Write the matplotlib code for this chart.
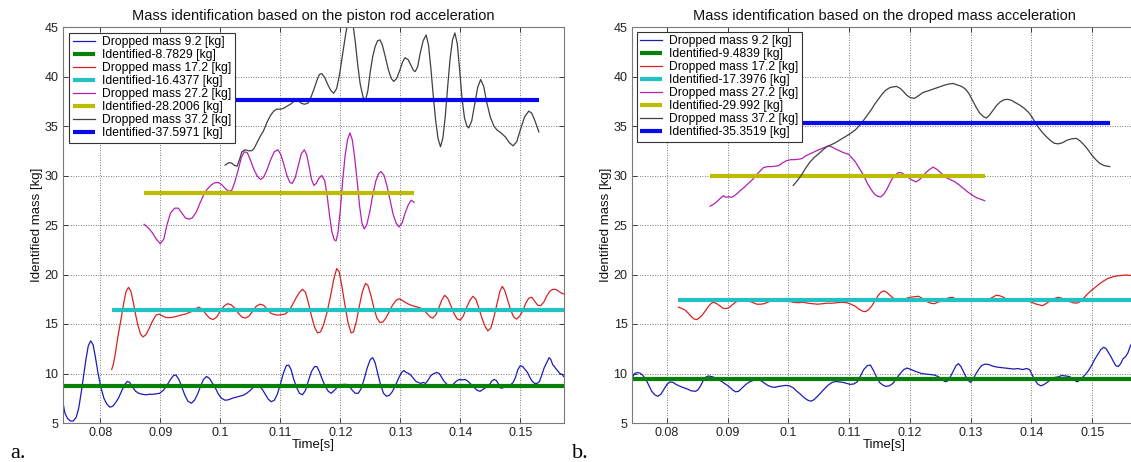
import matplotlib
matplotlib.use("Agg")
import matplotlib.pyplot as plt

plt.rcParams['font.family'] = ['Liberation Sans', 'DejaVu Sans']

# ---------------- panel a: piston rod acceleration ----------------
t_9a = [0.0737, 0.0741, 0.0745, 0.0750, 0.0755, 0.0760, 0.0764, 0.0768, 0.0772, 0.0776, 0.0780, 0.0784, 0.0788,
        0.0792, 0.0796, 0.0801, 0.0806, 0.0811, 0.0816, 0.0821, 0.0826, 0.0831, 0.0836, 0.0841, 0.0845, 0.0849,
        0.0854, 0.0859, 0.0864, 0.0870, 0.0876, 0.0882, 0.0888, 0.0894, 0.0899, 0.0905, 0.0911, 0.0917, 0.0922,
        0.0926, 0.0931, 0.0936, 0.0941, 0.0946, 0.0952, 0.0957, 0.0962, 0.0967, 0.0972, 0.0977, 0.0982, 0.0987,
        0.0992, 0.0997, 0.1002, 0.1008, 0.1014, 0.1020, 0.1026, 0.1032, 0.1038, 0.1044, 0.1050, 0.1055, 0.1060,
        0.1065, 0.1070, 0.1075, 0.1080, 0.1085, 0.1090, 0.1095, 0.1100, 0.1105, 0.1110, 0.1114, 0.1118, 0.1122,
        0.1127, 0.1132, 0.1137, 0.1142, 0.1147, 0.1152, 0.1157, 0.1161, 0.1165, 0.1170, 0.1175, 0.1180, 0.1185,
        0.1190, 0.1195, 0.1200, 0.1205, 0.1210, 0.1215, 0.1220, 0.1225, 0.1230, 0.1235, 0.1240, 0.1245, 0.1250,
        0.1254, 0.1258, 0.1262, 0.1267, 0.1272, 0.1277, 0.1282, 0.1287, 0.1292, 0.1297, 0.1302, 0.1306, 0.1310,
        0.1314, 0.1318, 0.1322, 0.1326, 0.1330, 0.1334, 0.1338, 0.1342, 0.1346, 0.1351, 0.1356, 0.1361, 0.1365,
        0.1369, 0.1373, 0.1378, 0.1383, 0.1388, 0.1393, 0.1398, 0.1403, 0.1408, 0.1413, 0.1418, 0.1423, 0.1428,
        0.1433, 0.1438, 0.1443, 0.1448, 0.1452, 0.1456, 0.1460, 0.1464, 0.1468, 0.1473, 0.1478, 0.1483, 0.1488,
        0.1492, 0.1496, 0.1500, 0.1504, 0.1508, 0.1512, 0.1516, 0.1520, 0.1524, 0.1528, 0.1532, 0.1536, 0.1540,
        0.1544, 0.1548, 0.1551, 0.1554, 0.1558, 0.1562, 0.1566, 0.1570, 0.1572]
m_9a = [7.3, 6.0, 5.5, 5.2, 5.2, 5.6, 6.5, 8.0, 9.7, 11.4, 12.8, 13.3, 12.9,
        11.6, 10.1, 8.6, 7.5, 6.9, 6.6, 6.7, 7.1, 7.6, 8.3, 8.9, 9.2, 9.1,
        8.6, 8.2, 8.0, 7.9, 7.85, 7.9, 7.9, 7.95, 8.0, 8.3, 8.8, 9.4, 9.8,
        9.85, 9.4, 8.6, 7.8, 7.2, 7.0, 7.3, 7.9, 8.7, 9.4, 9.7, 9.5, 9.0,
        8.5, 7.9, 7.5, 7.3, 7.35, 7.5, 7.6, 7.7, 7.8, 8.0, 8.3, 8.6, 8.75,
        8.7, 8.4, 7.9, 7.4, 7.15, 7.3, 7.9, 8.9, 10.0, 10.8, 10.85, 10.4, 9.5,
        8.6, 8.0, 7.85, 8.3, 9.3, 10.2, 10.7, 10.7, 10.2, 9.4, 8.7, 8.2, 8.0,
        8.3, 8.6, 8.8, 8.9, 8.9, 8.7, 8.3, 8.0, 8.0, 8.5, 9.5, 10.6, 11.4,
        11.6, 11.1, 10.1, 8.9, 8.0, 7.7, 7.8, 8.2, 8.8, 9.5, 10.1, 10.3, 10.1,
        10.0, 9.8, 9.5, 9.2, 9.1, 9.0, 9.1, 9.0, 9.3, 9.8, 10.0, 10.1, 10.0,
        9.6, 9.2, 8.9, 8.8, 8.9, 9.2, 9.4, 9.35, 9.4, 9.2, 8.9, 8.6, 8.3,
        8.2, 8.4, 8.6, 8.8, 9.2, 9.4, 9.3, 8.9, 8.5, 8.6, 8.7, 8.8, 9.1,
        9.6, 10.4, 10.8, 10.7, 10.4, 10.1, 9.6, 9.2, 9.0, 9.0, 9.2, 9.9, 10.6,
        11.1, 11.6, 11.4, 10.9, 10.6, 10.3, 10.0, 9.9, 9.7]

t_17a = [0.0819, 0.0822, 0.0825, 0.0829, 0.0834, 0.0839, 0.0843, 0.0847, 0.0851, 0.0855, 0.0859, 0.0863, 0.0867,
         0.0871, 0.0876, 0.0881, 0.0887, 0.0893, 0.0898, 0.0904, 0.0910, 0.0918, 0.0926, 0.0934, 0.0942, 0.0950,
         0.0958, 0.0964, 0.0970, 0.0976, 0.0982, 0.0988, 0.0994, 0.1000, 0.1006, 0.1012, 0.1018, 0.1024, 0.1030,
         0.1036, 0.1042, 0.1048, 0.1054, 0.1060, 0.1066, 0.1072, 0.1078, 0.1084, 0.1090, 0.1096, 0.1102, 0.1108,
         0.1114, 0.1120, 0.1126, 0.1132, 0.1137, 0.1142, 0.1147, 0.1152, 0.1157, 0.1162, 0.1167, 0.1172, 0.1178,
         0.1184, 0.1189, 0.1194, 0.1198, 0.1203, 0.1208, 0.1213, 0.1218, 0.1222, 0.1227, 0.1232, 0.1237, 0.1242,
         0.1246, 0.1251, 0.1256, 0.1261, 0.1266, 0.1271, 0.1276, 0.1281, 0.1287, 0.1293, 0.1298, 0.1303, 0.1308,
         0.1314, 0.1320, 0.1326, 0.1332, 0.1338, 0.1344, 0.1350, 0.1354, 0.1359, 0.1364, 0.1369, 0.1374, 0.1379,
         0.1384, 0.1390, 0.1395, 0.1400, 0.1405, 0.1410, 0.1416, 0.1421, 0.1426, 0.1431, 0.1436, 0.1441, 0.1446,
         0.1451, 0.1456, 0.1461, 0.1466, 0.1470, 0.1474, 0.1479, 0.1484, 0.1489, 0.1494, 0.1499, 0.1504, 0.1509,
         0.1514, 0.1519, 0.1524, 0.1529, 0.1534, 0.1539, 0.1544, 0.1549, 0.1554, 0.1559, 0.1564, 0.1569, 0.1572]
m_17a = [10.4, 11.0, 12.0, 13.6, 15.3, 17.1, 18.3, 18.7, 18.3, 17.2, 15.9, 14.8, 14.0,
         13.7, 13.9, 14.5, 15.3, 15.9, 16.0, 15.8, 15.65, 15.65, 15.75, 15.9, 16.0, 16.2,
         16.5, 16.7, 16.5, 16.0, 15.6, 15.45, 15.7, 16.3, 16.8, 17.05, 16.95, 16.6, 16.1,
         15.7, 15.6, 15.8, 16.3, 16.8, 17.0, 16.9, 16.5, 16.1, 15.95, 15.9, 15.95, 16.0,
         16.3, 16.9, 17.6, 18.2, 18.5, 18.2, 17.1, 15.8, 14.7, 14.1, 14.2, 14.9, 16.2,
         17.9, 19.5, 20.6, 20.3, 18.7, 16.8, 15.1, 14.1, 14.2, 15.3, 16.9, 18.3, 19.1,
         18.9, 17.9, 16.6, 15.6, 15.15, 15.2, 15.6, 16.2, 16.9, 17.4, 17.55, 17.4, 17.2,
         17.0, 16.85, 16.75, 16.65, 16.5, 16.1, 15.7, 15.6, 15.9, 16.6, 17.4, 17.9, 17.6,
         16.9, 16.0, 15.5, 15.4, 15.8, 16.6, 17.4, 17.8, 17.5, 16.6, 15.6, 14.8, 14.3,
         14.6, 15.7, 17.0, 18.3, 18.8, 18.4, 17.4, 16.4, 15.7, 15.5, 15.8, 16.3, 17.1,
         17.6, 17.7, 17.3, 16.9, 16.85, 17.2, 17.8, 18.3, 18.5, 18.5, 18.3, 18.1, 18.05]

t_27a = [0.0873, 0.0880, 0.0887, 0.0893, 0.0900, 0.0906, 0.0911, 0.0917, 0.0924, 0.0930, 0.0936, 0.0942, 0.0948,
         0.0953, 0.0960, 0.0966, 0.0972, 0.0978, 0.0984, 0.0990, 0.0996, 0.1002, 0.1008, 0.1014, 0.1019, 0.1024,
         0.1030, 0.1035, 0.1040, 0.1045, 0.1050, 0.1056, 0.1062, 0.1067, 0.1072, 0.1078, 0.1084, 0.1090, 0.1096,
         0.1101, 0.1106, 0.1111, 0.1116, 0.1120, 0.1125, 0.1130, 0.1135, 0.1140, 0.1144, 0.1148, 0.1152, 0.1156,
         0.1160, 0.1164, 0.1169, 0.1174, 0.1178, 0.1182, 0.1186, 0.1190, 0.1193, 0.1196, 0.1200, 0.1204, 0.1208,
         0.1212, 0.1216, 0.1220, 0.1224, 0.1228, 0.1232, 0.1236, 0.1240, 0.1244, 0.1249, 0.1254, 0.1259, 0.1264,
         0.1268, 0.1273, 0.1278, 0.1283, 0.1288, 0.1293, 0.1298, 0.1303, 0.1308, 0.1313, 0.1318, 0.1323]
m_27a = [25.07, 24.7, 24.2, 23.6, 23.1, 23.6, 25.0, 26.2, 26.7, 26.7, 26.2, 25.7, 25.6,
         25.7, 26.3, 27.2, 28.0, 28.6, 29.0, 29.25, 29.3, 29.1, 28.7, 28.4, 28.5, 29.3,
         30.6, 31.8, 32.4, 32.3, 31.6, 30.6, 29.9, 29.6, 29.8, 30.6, 31.6, 32.4, 32.6,
         32.1, 31.1, 30.0, 29.3, 29.2, 29.8, 31.0, 32.2, 32.6, 32.1, 30.9, 29.6, 29.0,
         29.2, 29.7, 30.0, 29.5, 28.0, 26.0, 24.3, 23.5, 23.4, 24.2, 26.5, 29.5, 32.0,
         33.6, 34.3, 33.6, 31.8, 29.5, 27.0, 25.2, 24.6, 25.0, 26.3, 28.0, 29.4, 30.2,
         30.4, 30.0, 28.9, 27.5, 26.1, 25.2, 24.8, 25.2, 26.2, 27.0, 27.5, 27.3]

t_37a = [0.1008, 0.1014, 0.1019, 0.1024, 0.1028, 0.1032, 0.1036, 0.1041, 0.1047, 0.1052, 0.1056, 0.1061, 0.1067,
         0.1072, 0.1078, 0.1084, 0.1089, 0.1094, 0.1100, 0.1106, 0.1111, 0.1117, 0.1123, 0.1129, 0.1135, 0.1140,
         0.1146, 0.1151, 0.1156, 0.1161, 0.1165, 0.1169, 0.1174, 0.1179, 0.1184, 0.1189, 0.1194, 0.1199, 0.1204,
         0.1209, 0.1213, 0.1217, 0.1221, 0.1225, 0.1229, 0.1233, 0.1238, 0.1242, 0.1246, 0.1250, 0.1254, 0.1258,
         0.1262, 0.1266, 0.1270, 0.1275, 0.1280, 0.1285, 0.1289, 0.1294, 0.1299, 0.1304, 0.1308, 0.1313, 0.1318,
         0.1322, 0.1325, 0.1329, 0.1333, 0.1338, 0.1343, 0.1347, 0.1351, 0.1355, 0.1359, 0.1363, 0.1367, 0.1371,
         0.1375, 0.1379, 0.1383, 0.1387, 0.1391, 0.1395, 0.1399, 0.1403, 0.1407, 0.1411, 0.1414, 0.1419, 0.1424,
         0.1429, 0.1434, 0.1439, 0.1444, 0.1450, 0.1456, 0.1461, 0.1468, 0.1475, 0.1482, 0.1488, 0.1494, 0.1500,
         0.1507, 0.1514, 0.1519, 0.1524, 0.1528, 0.1531]
m_37a = [31.05, 31.3, 31.25, 31.0, 30.95, 31.6, 32.4, 32.6, 32.5, 32.5, 32.7, 33.3, 34.0,
         34.5, 35.4, 36.1, 36.5, 36.7, 36.7, 36.8, 37.0, 37.2, 37.5, 37.6, 37.3, 37.2,
         37.3, 37.9, 38.7, 39.6, 40.2, 40.3, 39.9, 39.2, 38.6, 38.3, 38.8, 40.3, 42.3,
         44.3, 45.6, 46.0, 45.3, 43.5, 41.2, 39.3, 37.9, 37.6, 38.6, 40.5, 42.0, 43.0,
         43.6, 43.7, 43.2, 42.0, 40.7, 39.8, 39.5, 39.8, 40.6, 41.5, 41.9, 41.7, 41.1,
         40.6, 40.5, 41.0, 42.3, 43.6, 44.2, 43.2, 40.8, 38.0, 35.5, 33.7, 32.9, 33.8,
         36.0, 39.0, 41.8, 43.7, 44.4, 43.3, 40.6, 37.7, 35.8, 35.0, 34.8, 35.5, 37.2,
         38.9, 39.7, 39.0, 37.4, 35.9, 35.0, 34.6, 34.3, 33.9, 33.3, 33.0, 33.4, 34.6,
         35.9, 36.5, 36.3, 35.6, 34.9, 34.4]

# identified masses (value, start time, end time)
id_a = [8.7829, 16.4377, 28.2006, 37.5971]
id_a_start = [0.0737, 0.0819, 0.0873, 0.1008]
id_a_end = [0.1575, 0.1575, 0.1323, 0.1531]

# ---------------- panel b: dropped mass acceleration ----------------
t_9b = [0.0742, 0.0747, 0.0751, 0.0755, 0.0759, 0.0763, 0.0767, 0.0771, 0.0775, 0.0780, 0.0785, 0.0790, 0.0795,
        0.0800, 0.0805, 0.0810, 0.0815, 0.0820, 0.0826, 0.0833, 0.0840, 0.0847, 0.0851, 0.0855, 0.0859, 0.0863,
        0.0868, 0.0873, 0.0878, 0.0884, 0.0890, 0.0896, 0.0902, 0.0908, 0.0913, 0.0918, 0.0924, 0.0930, 0.0936,
        0.0942, 0.0948, 0.0954, 0.0960, 0.0966, 0.0972, 0.0978, 0.0984, 0.0990, 0.0996, 0.1002, 0.1008, 0.1014,
        0.1020, 0.1026, 0.1032, 0.1037, 0.1042, 0.1048, 0.1054, 0.1060, 0.1066, 0.1072, 0.1078, 0.1084, 0.1090,
        0.1096, 0.1102, 0.1108, 0.1114, 0.1119, 0.1124, 0.1130, 0.1135, 0.1140, 0.1145, 0.1150, 0.1155, 0.1160,
        0.1166, 0.1172, 0.1178, 0.1184, 0.1190, 0.1195, 0.1200, 0.1206, 0.1212, 0.1219, 0.1226, 0.1233, 0.1240,
        0.1246, 0.1252, 0.1257, 0.1261, 0.1266, 0.1271, 0.1276, 0.1280, 0.1284, 0.1288, 0.1292, 0.1296, 0.1300,
        0.1304, 0.1308, 0.1313, 0.1318, 0.1324, 0.1330, 0.1336, 0.1343, 0.1350, 0.1357, 0.1364, 0.1371, 0.1378,
        0.1385, 0.1392, 0.1397, 0.1401, 0.1406, 0.1411, 0.1416, 0.1421, 0.1426, 0.1432, 0.1438, 0.1444, 0.1450,
        0.1456, 0.1462, 0.1467, 0.1471, 0.1475, 0.1479, 0.1484, 0.1489, 0.1494, 0.1499, 0.1504, 0.1509, 0.1514,
        0.1519, 0.1523, 0.1527, 0.1531, 0.1535, 0.1539, 0.1543, 0.1547, 0.1551, 0.1555, 0.1559, 0.1563, 0.1567]
m_9b = [9.5, 10.0, 10.1, 10.05, 9.9, 9.6, 9.2, 8.7, 8.2, 7.85, 7.7, 7.9, 8.4,
        8.9, 9.15, 9.1, 8.9, 8.75, 8.6, 8.45, 8.25, 8.2, 8.35, 8.7, 9.2, 9.6,
        9.75, 9.7, 9.6, 9.4, 9.2, 8.95, 8.7, 8.35, 8.15, 8.2, 8.55, 8.9, 9.15,
        9.3, 9.4, 9.3, 9.05, 8.8, 8.65, 8.6, 8.7, 8.75, 8.8, 8.75, 8.55, 8.2,
        7.9, 7.55, 7.3, 7.2, 7.35, 7.7, 8.1, 8.5, 8.85, 9.1, 9.2, 9.15, 9.1,
        9.0, 8.9, 8.95, 9.2, 9.8, 10.4, 10.8, 10.85, 10.3, 9.65, 9.1, 8.85, 8.7,
        8.75, 9.0, 9.5, 10.0, 10.4, 10.55, 10.45, 10.3, 10.15, 10.0, 9.95, 9.9, 9.85,
        9.7, 9.5, 9.2, 9.2, 9.6, 10.2, 10.8, 11.0, 10.7, 10.2, 9.7, 9.3, 9.1,
        9.4, 9.9, 10.4, 10.8, 10.95, 10.9, 10.75, 10.65, 10.6, 10.55, 10.5, 10.45, 10.5,
        10.4, 10.5, 10.4, 9.9, 9.3, 8.9, 8.75, 8.9, 9.1, 9.4, 9.6, 9.65, 9.8,
        9.75, 9.7, 9.55, 9.35, 9.15, 9.3, 9.6, 9.9, 10.3, 10.8, 11.4, 11.9, 12.4,
        12.65, 12.5, 12.1, 11.7, 11.2, 10.8, 10.7, 11.0, 11.5, 11.7, 12.1, 12.8, 13.2]

t_17b = [0.0819, 0.0825, 0.0830, 0.0835, 0.0840, 0.0845, 0.0849, 0.0853, 0.0858, 0.0863, 0.0868, 0.0873, 0.0877,
         0.0882, 0.0887, 0.0892, 0.0897, 0.0902, 0.0907, 0.0913, 0.0918, 0.0924, 0.0930, 0.0936, 0.0942, 0.0948,
         0.0954, 0.0960, 0.0966, 0.0972, 0.0978, 0.0985, 0.0992, 0.1000, 0.1008, 0.1016, 0.1024, 0.1032, 0.1040,
         0.1048, 0.1056, 0.1064, 0.1072, 0.1080, 0.1088, 0.1096, 0.1103, 0.1110, 0.1116, 0.1122, 0.1127, 0.1132,
         0.1137, 0.1142, 0.1147, 0.1152, 0.1157, 0.1162, 0.1167, 0.1173, 0.1179, 0.1185, 0.1190, 0.1195, 0.1200,
         0.1207, 0.1214, 0.1220, 0.1227, 0.1234, 0.1240, 0.1246, 0.1252, 0.1258, 0.1264, 0.1270, 0.1276, 0.1282,
         0.1290, 0.1298, 0.1306, 0.1314, 0.1322, 0.1330, 0.1336, 0.1342, 0.1348, 0.1354, 0.1360, 0.1366, 0.1372,
         0.1378, 0.1386, 0.1394, 0.1400, 0.1406, 0.1412, 0.1418, 0.1424, 0.1430, 0.1437, 0.1444, 0.1450, 0.1456,
         0.1462, 0.1468, 0.1474, 0.1480, 0.1486, 0.1492, 0.1498, 0.1505, 0.1512, 0.1519, 0.1526, 0.1533, 0.1540,
         0.1548, 0.1556, 0.1564, 0.1570]
m_17b = [16.7, 16.55, 16.4, 16.1, 15.75, 15.5, 15.45, 15.6, 15.9, 16.3, 16.75, 17.1, 17.2,
         17.05, 16.85, 16.6, 16.55, 16.65, 16.9, 17.2, 17.35, 17.4, 17.4, 17.3, 17.15, 17.0,
         17.0, 17.05, 17.2, 17.35, 17.4, 17.45, 17.4, 17.3, 17.2, 17.15, 17.2, 17.1, 17.05,
         17.0, 17.05, 17.1, 17.1, 17.15, 17.2, 17.15, 17.0, 16.8, 16.5, 16.3, 16.25, 16.45,
         16.8, 17.3, 17.8, 18.2, 18.35, 18.2, 17.9, 17.6, 17.4, 17.3, 17.4, 17.6, 17.7,
         17.75, 17.8, 17.6, 17.3, 17.1, 17.05, 17.2, 17.35, 17.5, 17.65, 17.7, 17.5, 17.35,
         17.3, 17.3, 17.35, 17.3, 17.4, 17.45, 17.7, 17.9, 17.85, 17.7, 17.45, 17.3, 17.35,
         17.45, 17.4, 17.35, 17.2, 17.05, 16.95, 16.85, 17.05, 17.3, 17.55, 17.7, 17.6, 17.45,
         17.3, 17.15, 17.1, 17.25, 17.6, 18.0, 18.35, 18.7, 19.05, 19.35, 19.6, 19.75, 19.85,
         19.9, 19.95, 19.9, 20.0]

t_27b = [0.0871, 0.0877, 0.0882, 0.0888, 0.0893, 0.0897, 0.0901, 0.0906, 0.0910, 0.0916, 0.0921, 0.0928, 0.0934,
         0.0941, 0.0948, 0.0954, 0.0959, 0.0966, 0.0973, 0.0979, 0.0984, 0.0991, 0.0997, 0.1004, 0.1011, 0.1017,
         0.1022, 0.1029, 0.1036, 0.1043, 0.1050, 0.1058, 0.1066, 0.1071, 0.1077, 0.1084, 0.1091, 0.1099, 0.1104,
         0.1110, 0.1117, 0.1124, 0.1130, 0.1137, 0.1142, 0.1147, 0.1152, 0.1157, 0.1162, 0.1166, 0.1170, 0.1175,
         0.1181, 0.1187, 0.1195, 0.1202, 0.1210, 0.1216, 0.1222, 0.1230, 0.1238, 0.1245, 0.1252, 0.1259, 0.1266,
         0.1273, 0.1280, 0.1288, 0.1296, 0.1303, 0.1310, 0.1317, 0.1323]
m_27b = [26.9, 27.1, 27.35, 27.7, 27.95, 27.8, 27.85, 27.8, 27.9, 28.2, 28.5, 28.85, 29.2,
         29.6, 30.1, 30.5, 30.8, 30.9, 30.9, 30.95, 31.0, 31.3, 31.5, 31.6, 31.6, 31.65,
         31.7, 32.0, 32.2, 32.4, 32.6, 32.8, 33.0, 32.9, 32.7, 32.5, 32.3, 32.15, 31.8,
         31.4, 30.7, 30.0, 29.2, 28.5, 28.1, 27.9, 27.85, 28.1, 28.6, 29.1, 29.6, 30.0,
         30.3, 30.25, 29.9, 29.6, 29.35, 29.6, 30.0, 30.5, 30.85, 30.6, 30.2, 29.8, 29.6,
         29.4, 29.1, 28.7, 28.3, 28.0, 27.75, 27.6, 27.45]

t_37b = [0.1008, 0.1015, 0.1022, 0.1029, 0.1036, 0.1043, 0.1050, 0.1057, 0.1063, 0.1070, 0.1077, 0.1085, 0.1093,
         0.1101, 0.1110, 0.1117, 0.1124, 0.1130, 0.1137, 0.1142, 0.1148, 0.1154, 0.1160, 0.1166, 0.1172, 0.1178,
         0.1184, 0.1189, 0.1195, 0.1201, 0.1208, 0.1215, 0.1222, 0.1230, 0.1237, 0.1244, 0.1251, 0.1258, 0.1265,
         0.1271, 0.1278, 0.1285, 0.1291, 0.1297, 0.1303, 0.1309, 0.1315, 0.1321, 0.1326, 0.1331, 0.1337, 0.1343,
         0.1349, 0.1355, 0.1361, 0.1367, 0.1374, 0.1381, 0.1388, 0.1395, 0.1400, 0.1405, 0.1411, 0.1418, 0.1425,
         0.1432, 0.1438, 0.1444, 0.1451, 0.1458, 0.1466, 0.1474, 0.1480, 0.1485, 0.1492, 0.1499, 0.1506, 0.1513,
         0.1520, 0.1529]
m_37b = [29.0, 29.5, 30.1, 30.8, 31.4, 31.85, 32.2, 32.6, 32.9, 33.1, 33.3, 33.6, 33.9,
         34.2, 34.6, 35.05, 35.6, 36.1, 36.7, 37.2, 37.7, 38.2, 38.6, 38.85, 38.95, 39.0,
         38.8, 38.5, 38.1, 37.85, 37.8, 38.1, 38.4, 38.55, 38.7, 38.85, 39.0, 39.15, 39.25,
         39.3, 39.15, 39.0, 38.75, 38.3, 37.6, 36.9, 36.3, 35.95, 35.8, 36.1, 36.6, 37.1,
         37.45, 37.65, 37.7, 37.6, 37.35, 37.1, 36.8, 36.4, 36.0, 35.5, 34.9, 34.35, 33.9,
         33.5, 33.25, 33.2, 33.3, 33.55, 33.7, 33.75, 33.5, 33.2, 32.7, 32.1, 31.6, 31.2,
         31.0, 30.9]

id_b = [9.4839, 17.3976, 29.992, 35.3519]
id_b_start = [0.0742, 0.0819, 0.0871, 0.1008]
id_b_end = [0.1580, 0.1580, 0.1323, 0.1529]

dropped = [9.2, 17.2, 27.2, 37.2]
xticks = [0.08, 0.09, 0.10, 0.11, 0.12, 0.13, 0.14, 0.15]
xtick_labels = ['0.08', '0.09', '0.1', '0.11', '0.12', '0.13', '0.14', '0.15']
yticks = [5, 10, 15, 20, 25, 30, 35, 40, 45]

thin_colors = ['#1c1cb8', '#d82222', '#b420b4', '#404040']
thick_colors = ['#078007', '#22c2c2', '#bcbc00', '#0a0aee']

fig = plt.figure(figsize=(11.31, 4.62), dpi=100)
W, H = 1131.0, 462.0
ax_a = fig.add_axes([62.5 / W, 1 - 423 / H, 501 / W, 396 / H])
ax_b = fig.add_axes([631.7 / W, 1 - 423 / H, 506 / W, 396 / H])

panels = [
    (ax_a, [(t_9a, m_9a), (t_17a, m_17a), (t_27a, m_27a), (t_37a, m_37a)], id_a, id_a_start, id_a_end,
     (0.0737, 0.1572), "Mass identification based on the piston rod acceleration", (0.0133, 0.9856)),
    (ax_b, [(t_9b, m_9b), (t_17b, m_17b), (t_27b, m_27b), (t_37b, m_37b)], id_b, id_b_start, id_b_end,
     (0.0742, 0.1575), "Mass identification based on the droped mass acceleration", (0.0099, 0.9881)),
]

for ax, curves, ids, starts, ends, xlim, title, anchor in panels:
    for i in range(4):
        t, m = curves[i]
        ax.plot(t, m, color=thin_colors[i], lw=0.9, label='Dropped mass %g [kg]' % dropped[i])
        ax.plot([starts[i], ends[i]], [ids[i], ids[i]], color=thick_colors[i], lw=3.0,
                solid_capstyle='butt', label='Identified-%s [kg]' % repr(ids[i]))
    ax.set_xlim(*xlim)
    ax.set_ylim(5, 45)
    ax.set_xticks(xticks)
    ax.set_xticklabels(xtick_labels)
    ax.set_yticks(yticks)
    ax.grid(True, color='#505050', linestyle=(0, (1, 2)), linewidth=0.6)
    ax.tick_params(direction='in', top=True, right=True, length=3.5, width=0.6,
                   labelsize=9, pad=3, colors='#222222')
    for s in ax.spines.values():
        s.set_color('#7a7a7a')
        s.set_linewidth(0.8)
    ax.set_title(title, fontsize=10.5, pad=5, color='#111111')
    ax.set_xlabel('Time[s]', fontsize=9.5, labelpad=0, color='#111111')
    ax.set_ylabel('Identified mass [kg]', fontsize=9.5, labelpad=1, color='#111111')
    leg = ax.legend(loc='upper left', bbox_to_anchor=anchor, borderaxespad=0, fontsize=8.7,
                    labelspacing=0.08, handlelength=1.8, handletextpad=0.6, borderpad=0.3,
                    fancybox=False, framealpha=1, edgecolor='#333333')
    leg.get_frame().set_linewidth(0.8)

fig.text(10 / W, 1 - 458 / H, 'a.', fontsize=16, family=['Liberation Serif', 'DejaVu Serif'])
fig.text(572 / W, 1 - 458 / H, 'b.', fontsize=16, family=['Liberation Serif', 'DejaVu Serif'])

fig.savefig('out.png', dpi=100)
